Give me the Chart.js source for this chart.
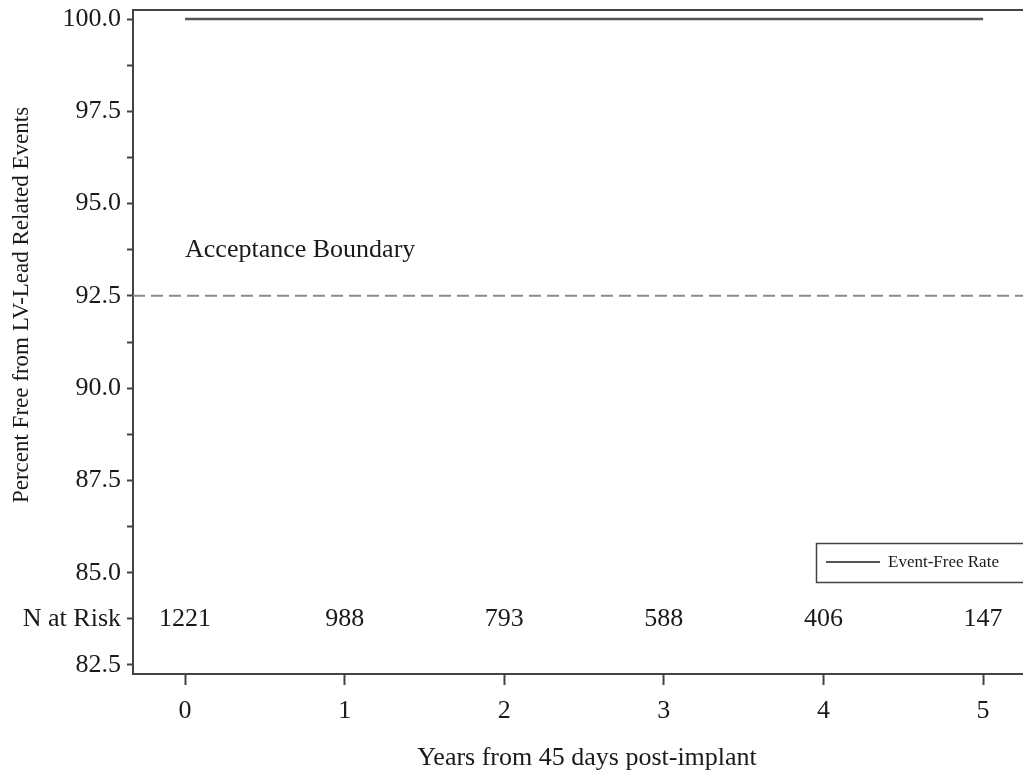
<!DOCTYPE html>
<html>
<head>
<meta charset="utf-8">
<script src="https://cdn.jsdelivr.net/npm/chart.js@4"></script>
<style>
  html, body { margin: 0; padding: 0; background: #fff; }
  #wrap { width: 1023px; height: 775px; }
</style>
</head>
<body>
<div id="wrap"><canvas id="km"></canvas></div>
<script>
// данные графика
const years = [0, 1, 2, 3, 4, 5];
const eventFree = [100, 100, 100, 100, 100, 100];
const nAtRisk = [1221, 988, 793, 588, 406, 147];
const boundary = 92.5;
const yTicks = [82.5, 83.75, 85, 86.25, 87.5, 88.75, 90, 91.25, 92.5, 93.75, 95, 96.25, 97.5, 98.75, 100];
const xTicks = [0, 1, 2, 3, 4, 5];
const riskRowValue = 83.75;

const X_MIN = -0.326, X_MAX = 5.25;
const Y_MIN = 82.256, Y_MAX = 100.244;
const FONT = "'Liberation Serif', 'Times New Roman', serif";
const AXIS = "#444";

// подписи, легенда и строка "N at Risk"
const extras = {
    id: "extras",
    afterDraw(chart) {
        const ctx = chart.ctx;
        const x = chart.scales.x, y = chart.scales.y;
        ctx.save();
        ctx.fillStyle = "#1a1a1a";
        ctx.font = "26px " + FONT;
        ctx.textAlign = "center";
        ctx.textBaseline = "middle";
        nAtRisk.forEach((n, i) => {
            ctx.fillText(String(n), x.getPixelForValue(years[i]), y.getPixelForValue(riskRowValue));
        });

        ctx.textAlign = "left";
        ctx.textBaseline = "alphabetic";
        ctx.fillText("Acceptance Boundary", x.getPixelForValue(0), y.getPixelForValue(boundary) - 39);

        ctx.textAlign = "center";
        ctx.textBaseline = "middle";
        ctx.fillText("Years from 45 days post-implant", 587, 758);

        ctx.save();
        ctx.translate(22, 305);
        ctx.rotate(-Math.PI / 2);
        ctx.font = "23px " + FONT;
        ctx.fillText("Percent Free from LV-Lead Related Events", 0, 0);
        ctx.restore();

        // легенда
        ctx.strokeStyle = AXIS;
        ctx.lineWidth = 1.5;
        ctx.strokeRect(816.5, 543.5, 220, 39);
        ctx.strokeStyle = "#555";
        ctx.lineWidth = 2;
        ctx.beginPath();
        ctx.moveTo(826, 562);
        ctx.lineTo(880, 562);
        ctx.stroke();
        ctx.font = "17px " + FONT;
        ctx.textAlign = "left";
        ctx.fillText(chart.data.datasets[0].label, 888, 563);
        ctx.restore();
    }
};

new Chart(document.getElementById("km"), {
    type: "line",
    data: {
        datasets: [
            {
                label: "Event-Free Rate",
                data: years.map((t, i) => ({ x: t, y: eventFree[i] })),
                borderColor: "#555",
                borderWidth: 2.5,
                pointRadius: 0,
                fill: false,
            },
            {
                label: "Acceptance Boundary",
                data: [{ x: X_MIN, y: boundary }, { x: X_MAX, y: boundary }],
                borderColor: "#8a8a8a",
                borderWidth: 2,
                borderDash: [12, 6],
                pointRadius: 0,
                fill: false,
            },
        ],
    },
    options: {
        responsive: true,
        maintainAspectRatio: false,
        animation: false,
        layout: { padding: { top: 10, right: 0, left: 0, bottom: 0 } },
        plugins: {
            legend: { display: false },
            tooltip: { enabled: false },
        },
        scales: {
            x: {
                type: "linear",
                position: "bottom",
                min: X_MIN,
                max: X_MAX,
                afterBuildTicks: (s) => { s.ticks = xTicks.map((v) => ({ value: v })); },
                afterFit: (s) => { s.height = 101; s.paddingLeft = 0; s.paddingRight = 0; },
                grid: { drawOnChartArea: false, drawTicks: true, tickLength: 11, tickColor: AXIS, tickWidth: 2 },
                border: { display: true, color: AXIS, width: 2 },
                ticks: { color: "#1a1a1a", font: { family: FONT, size: 26 }, padding: 11, maxRotation: 0 },
            },
            x2: {
                type: "linear",
                position: "top",
                min: X_MIN,
                max: X_MAX,
                afterFit: (s) => { s.height = 0; s.paddingLeft = 0; s.paddingRight = 0; },
                grid: { display: false },
                border: { display: true, color: AXIS, width: 2 },
                ticks: { display: false },
            },
            y: {
                type: "linear",
                position: "left",
                min: Y_MIN,
                max: Y_MAX,
                afterBuildTicks: (s) => { s.ticks = yTicks.map((v) => ({ value: v })); },
                afterFit: (s) => { s.width = 133; s.paddingTop = 0; s.paddingBottom = 0; },
                grid: { drawOnChartArea: false, drawTicks: true, tickLength: 6, tickColor: AXIS, tickWidth: 2 },
                border: { display: true, color: AXIS, width: 2 },
                ticks: {
                    color: "#1a1a1a",
                    font: { family: FONT, size: 26 },
                    padding: 6,
                    autoSkip: false,
                    callback: (v) => {
                        if (v === riskRowValue) return "N at Risk";
                        if (Math.abs(v / 2.5 - Math.round(v / 2.5)) < 1e-6) return v.toFixed(1);
                        return "";
                    },
                },
            },
        },
    },
    plugins: [extras],
});
</script>
</body>
</html>
